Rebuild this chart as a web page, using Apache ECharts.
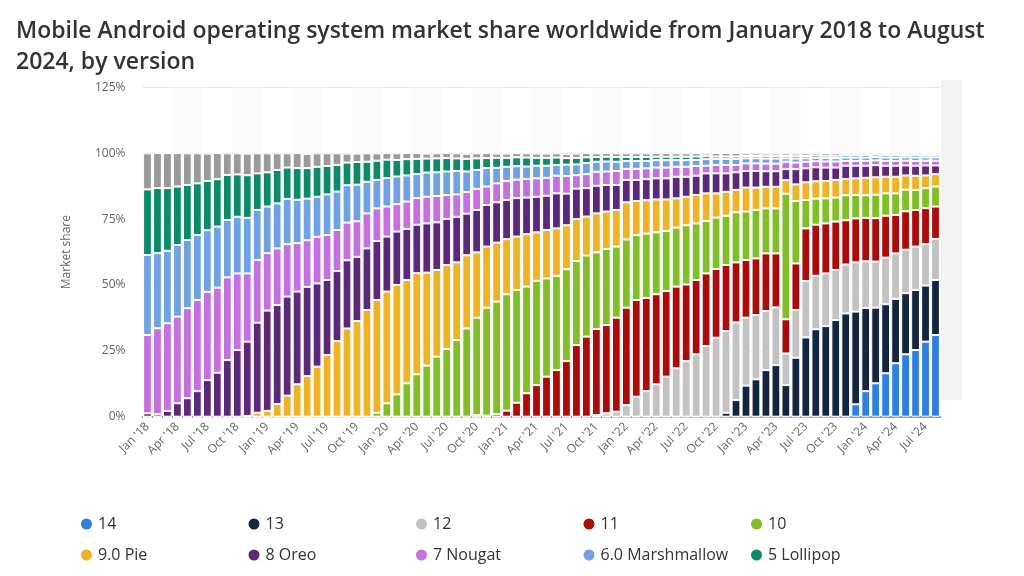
<!DOCTYPE html>
<html>
<head>
<meta charset="utf-8">
<script src="https://cdn.jsdelivr.net/npm/echarts@6/dist/echarts.min.js"></script>
<style>
html,body{margin:0;padding:0;background:#fff;}
#chart{width:1024px;height:576px;}
</style>
</head>
<body>
<div id="chart"></div>
<script>
// Categories: Jan '18 .. Aug '24
const monthNames = ['Jan','Feb','Mar','Apr','May','Jun','Jul','Aug','Sep','Oct','Nov','Dec'];
const categories = [];
for (let y = 18; y <= 24; y++) {
  for (let m = 0; m < 12; m++) {
    if (y === 24 && m > 7) break;
    categories.push(monthNames[m] + " '" + y);
  }
}

const seriesNames = ['14','13','12','11','10','9.0 Pie','8 Oreo','7 Nougat','6.0 Marshmallow','5 Lollipop','Other'];
const seriesColors = ['#2f7fe0','#13263f','#c2c2c2','#ab0b0b','#80bf27','#eeb426','#5c2878','#c470de','#70a2e3','#0e8a6b','#9a9a9a'];

const v14 = [
  0,0,0,0,0,0,0,0,0,0, 0,0,0,0,0,0,0,0,0,0, 0,0,0,0,0,0,0,0,0,0, 0,0,0,0,0,0,0,0,0,0,
  0,0,0,0,0,0,0,0,0,0, 0,0,0,0,0,0,0,0,0,0, 0,0,0,0,0,0,0,0,0,0,
  0,4.7,9.7,12.7,16.5,20.3,23.7,25.3,28.5,31.0];
const v13 = [
  0,0,0,0,0,0,0,0,0,0, 0,0,0,0,0,0,0,0,0,0, 0,0,0,0,0,0,0,0,0,0, 0,0,0,0,0,0,0,0,0,0,
  0,0,0,0,0,0,0,0,0,0, 0,0,0,0,0,0,0,0,1.5,6.3, 11.8,14.2,17.7,19.6,12.0,22.4,30.1,33.2,34.4,36.7,
  39.2,35.2,31.6,28.7,26.2,24.4,23.2,22.8,21.3,20.9];
const v12 = [
  0,0,0,0,0,0,0,0,0,0, 0,0,0,0,0,0,0,0,0,0, 0,0,0,0,0,0,0,0,0,0, 0,0,0,0,0,0,0,0,0,0,
  0,0,0,0,0,0.6,1.3,1.9,4.4,7.6, 9.7,12.3,15.2,18.4,21.1,23.7,26.8,30.0,31.0,29.5,
  25.8,24.4,22.4,21.9,12.0,18.1,21.4,20.3,20.0,19.0, 18.6,18.7,17.7,17.5,17.7,17.3,16.5,16.5,15.7,15.6];
const v11 = [
  0,0,0,0,0,0,0,0,0,0, 0,0,0,0,0,0,0,0,0,0, 0,0,0,0,0,0,0,0,0,0, 0,0,0,0.6,0.4,0.9,2.3,5.3,8.9,12.0,
  15.2,17.7,21.1,27.2,30.4,32.7,33.5,35.7,37.0,36.7, 35.4,34.2,32.5,31.0,29.1,28.2,27.6,26.1,25.1,22.8,
  21.9,21.5,21.9,20.5,13.0,17.7,20.0,19.4,19.0,18.4, 16.8,16.7,16.5,16.5,15.9,14.6,14.6,13.9,13.7,12.3];
const v10 = [
  0,0,0,0,0,0,0,0,0,0, 0,0,0,0,0,0,0,0,0,0, 0,0,0,1.5,5.1,8.5,12.7,16.1,19.4,22.8,
  25.7,29.1,33.5,37.0,41.0,42.8,44.2,42.8,40.5,39.6, 37.3,35.8,34.9,31.9,30.8,29.1,28.9,27.0,25.9,24.7,
  24.4,23.5,22.8,22.4,22.5,21.5,19.9,19.5,18.7,19.0, 18.4,18.4,17.1,17.1,47.7,23.7,10.8,9.9,9.5,9.1,
  9.5,8.9,8.6,8.9,8.5,8.2,8.2,7.6,7.6,7.6];
const vPie = [
  0,0,0,0,0,0,0,0,0,0, 0.3,1.5,2.2,4.8,8.0,12.3,15.4,19.0,23.4,28.7,
  33.5,36.3,40.5,42.8,42.4,41.5,39.2,38.4,35.3,32.9, 31.9,29.5,27.8,24.8,23.2,22.4,20.9,20.3,19.9,18.4,
  18.4,18.0,16.7,15.9,14.8,14.8,14.2,13.9,14.1,12.9, 12.7,12.5,12.0,11.1,10.8,10.8,10.5,9.2,9.1,8.5,
  9.1,8.5,8.2,8.2,5.1,6.3,6.7,6.6,6.6,6.7, 6.1,6.3,6.6,6.6,6.3,6.3,5.4,5.4,4.8,4.7];
const vOreo = [
  1.3,0.9,2.2,5.1,7.0,9.7,13.9,16.7,21.5,25.3, 28.2,34.2,38.1,37.6,37.6,35.2,33.9,31.6,28.5,26.6,
  25.9,24.4,23.4,22.4,20.9,20.3,19.4,18.4,18.7,18.1, 17.5,17.3,15.8,16.1,15.8,15.3,14.9,14.6,13.9,13.5,
  13.0,13.3,12.0,11.6,10.8,10.5,10.1,9.5,8.5,8.0, 8.0,8.0,8.0,8.2,7.6,7.3,7.6,7.6,7.0,6.7,
  6.3,6.3,5.9,5.9,4.2,5.8,5.3,5.3,5.1,4.7, 5.1,4.8,4.6,4.6,4.2,4.2,3.8,3.8,3.8,3.3];
const vNougat = [
  29.7,32.7,33.3,32.9,34.2,34.6,33.5,32.3,31.4,29.1, 25.9,23.8,21.8,21.5,19.9,18.4,17.7,17.7,17.1,15.6,
  14.3,13.5,13.3,12.4,11.4,10.4,10.4,10.1,10.1,10.0, 9.1,8.5,8.2,8.0,7.0,7.2,7.2,7.0,7.1,7.0,
  6.8,6.7,6.7,5.1,5.3,5.3,5.1,5.3,4.2,4.2, 4.1,4.1,4.1,3.8,3.8,3.7,2.9,3.2,3.2,2.8,
  2.9,2.9,2.9,2.9,2.8,2.5,2.5,2.3,2.3,2.3, 1.8,1.8,1.8,1.8,1.8,1.8,1.8,1.8,1.8,1.8];
const vMarsh = [
  30.4,28.5,27.5,27.2,25.9,24.7,23.4,23.2,21.8,21.5, 21.1,19.0,17.7,17.1,17.2,16.5,15.8,15.2,15.4,14.6,
  14.2,13.9,12.0,10.8,10.8,10.5,9.9,9.1,9.2,9.0, 8.9,8.9,7.8,7.2,7.0,5.9,5.4,5.1,4.7,4.8,
  4.6,4.1,4.3,4.1,4.2,3.8,3.8,3.5,3.0,3.0, 2.8,2.8,2.8,2.5,2.5,2.3,2.5,2.3,2.3,2.3,
  1.9,1.9,1.9,1.9,1.3,1.5,1.3,1.3,1.3,1.3, 1.3,1.3,1.3,1.3,1.3,1.3,1.3,1.3,1.3,1.3];
const vLollipop = [
  24.9,24.7,23.8,22.2,20.9,19.6,18.7,18.0,17.1,16.1, 16.2,13.9,13.0,12.7,11.9,12.0,11.6,11.4,10.8,10.1,
  8.6,8.6,7.6,7.3,7.0,6.3,6.2,5.8,5.3,5.3, 5.1,4.8,4.8,4.4,3.8,3.8,3.4,3.4,3.4,3.0,
  3.0,2.8,2.5,2.5,2.2,1.8,1.8,1.8,1.5,1.5, 1.5,1.3,1.3,1.3,1.3,1.3,1.1,0.9,0.9,0.9,
  0.9,0.9,0.9,0.9,0.9,0.9,0.9,0.9,0.9,0.9, 0.9,0.9,0.9,0.9,0.9,0.9,0.9,0.9,0.9,0.9];
const vOther = [
  13.7,13.3,13.3,12.7,12.0,11.4,10.4,9.9,8.2,8.0, 8.2,7.6,7.2,6.3,5.4,5.7,5.4,5.1,4.8,4.4,
  3.4,3.2,3.2,2.8,2.5,2.5,2.3,2.2,1.9,1.9, 1.9,1.9,1.9,1.9,1.9,1.6,1.6,1.6,1.6,1.6,
  1.6,1.6,1.6,1.6,1.6,1.4,1.4,1.4,1.4,1.4, 1.4,1.4,1.4,1.3,1.3,1.3,1.0,1.3,1.3,1.3,
  1.0,1.0,1.0,1.0,1.0,1.0,1.0,1.0,1.0,1.0, 0.7,0.7,0.7,0.7,0.7,0.7,0.7,0.7,0.7,0.7];

const seriesValues = [v14, v13, v12, v11, v10, vPie, vOreo, vNougat, vMarsh, vLollipop, vOther];

const yTicks = [0, 25, 50, 75, 100, 125];

const FONT = "'Open Sans', 'Noto Sans', sans-serif";

const chart = echarts.init(document.getElementById('chart'), null, {renderer: 'canvas'});

const series = seriesNames.map((name, i) => ({
  name: name,
  type: 'bar',
  stack: 'total',
  barCategoryGap: '12%',
  data: seriesValues[i],
  itemStyle: { color: seriesColors[i], borderColor: '#ffffff', borderWidth: 1 },
  emphasis: { disabled: true }
}));

// legend: 5 columns grid
const legends = seriesNames.map((name, i) => ({
  data: [name],
  left: 74 + (i % 5) * 167.5,
  top: 511 + Math.floor(i / 5) * 31,
  icon: 'circle',
  itemWidth: 13,
  itemHeight: 13,
  itemGap: 8,
  selectedMode: false,
  textStyle: { fontFamily: FONT, fontSize: 16, color: '#333' }
}));

chart.setOption({
  animation: false,
  backgroundColor: '#ffffff',
  title: {
    text: 'Mobile Android operating system market share worldwide from January 2018 to August\n2024, by version',
    left: 11,
    top: 11,
    textStyle: { fontFamily: FONT, fontSize: 23, fontWeight: 600, color: '#333', lineHeight: 31 }
  },
  legend: legends,
  grid: { left: 142.5, right: 83.5, top: 87.5, bottom: 159.3, containLabel: false },
  graphic: [{
    type: 'rect', z: -10, silent: true,
    shape: { x: 941, y: 80, width: 21, height: 320 },
    style: { fill: '#f3f3f3' }
  }],
  xAxis: {
    type: 'category',
    data: categories,
    axisLine: { show: true, lineStyle: { color: '#777', width: 1.5 } },
    axisTick: { show: false },
    axisLabel: {
      interval: 2, rotate: 45, margin: 8,
      fontFamily: FONT, fontSize: 12, color: '#666'
    },
    splitArea: { show: true, interval: 2, areaStyle: { color: ['rgba(255,255,255,0)', 'rgba(248,248,248,0.6)'] } }
  },
  yAxis: {
    type: 'value',
    min: yTicks[0], max: yTicks[yTicks.length - 1], interval: 25,
    name: 'Market share',
    nameLocation: 'middle',
    nameGap: 70,
    nameTextStyle: { fontFamily: FONT, fontSize: 12, color: '#666' },
    axisLine: { show: false },
    axisTick: { show: false },
    axisLabel: { formatter: '{value}%', margin: 17, fontFamily: FONT, fontSize: 12, color: '#666' },
    splitLine: { show: true, lineStyle: { color: '#e8e8e8' } }
  },
  series: series
});
</script>
</body>
</html>
